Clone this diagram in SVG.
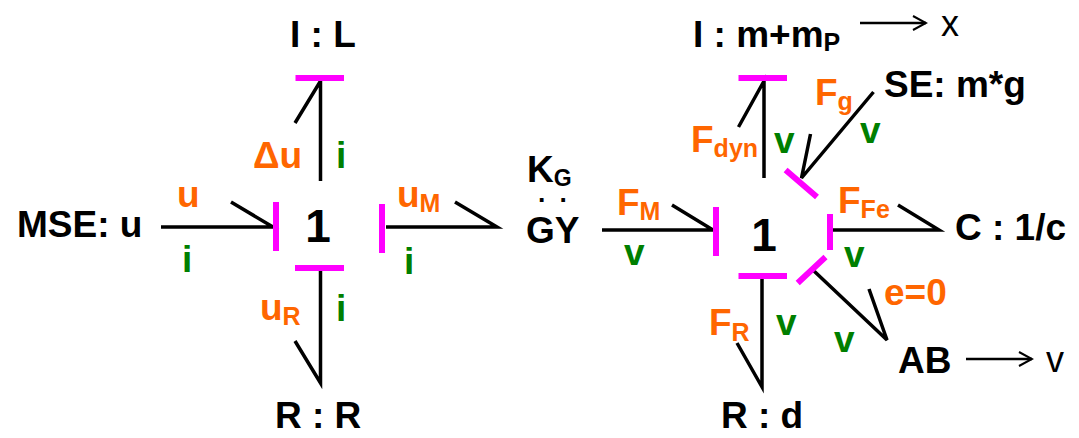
<svg xmlns="http://www.w3.org/2000/svg" width="1079" height="438" viewBox="0 0 1079 438">
<defs>
<marker id="open" markerUnits="userSpaceOnUse" markerWidth="16" markerHeight="18" refX="14" refY="9" orient="auto"><path d="M1 2L14 9L1 16" fill="none" stroke="#000" stroke-width="2"/></marker>
</defs>
<style>
text{font-family:"Liberation Sans",Arial,sans-serif;font-weight:700}
.b{font-size:37px;fill:#000}
.o{font-size:37px;fill:#ff6600}
.g{font-size:37px;fill:#007f00}
.s{font-size:25px}
.kg{font-size:23px}
.dots{font-size:12px;fill:#000;stroke:#000;stroke-width:2}
.one{font-size:46px;fill:#000;text-anchor:middle}
.t{font-weight:400;font-size:36px;fill:#000}
.bar{stroke:#ff00ff;stroke-width:6;fill:none}
.bond{stroke:#000;stroke-width:3.5;fill:none}
.thin{stroke:#000;stroke-width:2.4;fill:none}
</style>
<rect width="1079" height="438" fill="#fff"/>
<g id="connectors">
<path class="bond" d="M320.500 181V81L295 123"/>
<path class="bond" d="M161 227H273L231 202"/>
<path class="bond" d="M386 227H497L455 202"/>
<path class="bond" d="M320.500 271V383L295 341"/>
<path class="bond" d="M764 178V81L738.500 127"/>
<path class="bond" d="M873.500 92L801.500 178L810.500 134"/>
<path class="bond" d="M602 230H713L672 205"/>
<path class="bond" d="M833 230H939L898 205"/>
<path class="bond" d="M814 271L887 340L869 289"/>
<path class="bond" d="M762 279V387L737 343"/>
<path class="thin" d="M860 23H926" marker-end="url(#open)"/>
<path class="thin" d="M966 359H1032" marker-end="url(#open)"/>
</g>
<g id="junction-1-left">
<path class="bar" d="M295.500 78H344M276 202V251M382 204V253M295 268H344"/>
<text class="one" x="318" y="242">1</text>
</g>
<g id="junction-1-right">
<path class="bar" d="M738.500 78H787M716 207V256M830 214V250M738.500 276H787M785.600 170L817 197M825.500 257L797.700 283"/>
<text class="one" x="764" y="251">1</text>
</g>
<g id="node-mse"><text class="b" x="17" y="237">MSE: u</text></g>
<g id="node-il"><text class="b" x="290" y="47">I : L</text></g>
<g id="node-rr"><text class="b" x="275" y="428">R : R</text></g>
<g id="node-gy">
<text class="b" x="527" y="182">K<tspan class="kg" dy="4">G</tspan></text>
<text class="dots" x="540 561.500" y="201">..</text>
<text class="b" x="526" y="243">GY</text>
</g>
<g id="node-im"><text class="b" x="693" y="47">I : m+m<tspan class="s" dy="4">P</tspan></text></g>
<g id="node-x"><text class="t" x="941" y="36">x</text></g>
<g id="node-se"><text class="b" x="884" y="97">SE: m*g</text></g>
<g id="node-c"><text class="b" x="955" y="240">C : 1/c</text></g>
<g id="node-ab"><text class="b" x="898" y="373">AB</text></g>
<g id="node-v"><text class="t" x="1046" y="372">v</text></g>
<g id="node-rd"><text class="b" x="721" y="428">R : d</text></g>
<g id="labels">
<text class="o" x="253" y="168">Δu</text>
<text class="g" x="336" y="168">i</text>
<text class="o" x="177" y="207">u</text>
<text class="g" x="182" y="272">i</text>
<text class="o" x="397" y="207">u<tspan class="s" dy="5">M</tspan></text>
<text class="g" x="404" y="274">i</text>
<text class="o" x="260" y="320">u<tspan class="s" dy="5">R</tspan></text>
<text class="g" x="336" y="321">i</text>
<text class="o" x="691" y="152">F<tspan class="s" dy="5">dyn</tspan></text>
<text class="g" x="774" y="153">v</text>
<text class="o" x="815" y="105">F<tspan class="s" dy="5">g</tspan></text>
<text class="g" x="860" y="143">v</text>
<text class="o" x="617" y="215">F<tspan class="s" dy="5">M</tspan></text>
<text class="g" x="624" y="265">v</text>
<text class="o" x="838" y="213">F<tspan class="s" dy="5">Fe</tspan></text>
<text class="g" x="844" y="267">v</text>
<text class="o" x="884" y="305">e=0</text>
<text class="g" x="834" y="352">v</text>
<text class="o" x="709" y="335">F<tspan class="s" dy="6">R</tspan></text>
<text class="g" x="776" y="335">v</text>
</g>
</svg>
